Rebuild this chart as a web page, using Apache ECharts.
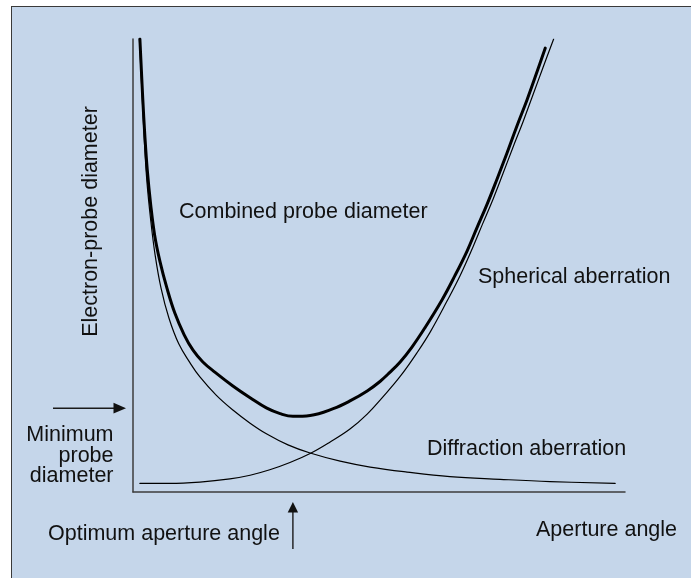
<!DOCTYPE html>
<html>
<head>
<meta charset="utf-8">
<title>Electron-probe diameter vs aperture angle</title>
<script src="https://cdn.jsdelivr.net/npm/echarts@6/dist/echarts.min.js"></script>
<style>
  html, body { margin: 0; padding: 0; background: #ffffff; }
  #wrap { position: relative; width: 691px; height: 578px; overflow: hidden; }
  #panel {
    position: absolute; left: 11px; top: 6px; width: 720px; height: 620px;
    background: #c5d6ea; border: 1.5px solid #3a3a3a; box-sizing: border-box;
  }
  #chart { position: absolute; left: 0; top: 0; width: 691px; height: 578px; }
</style>
</head>
<body>
<div id="wrap">
  <div id="panel"></div>
  <div id="chart"></div>
</div>
<script>
// Aperture angle (arbitrary units, 0-100) vs probe diameter (arbitrary units, 0-100)
const combinedProbe = [
  [1.4, 100.0], [1.7, 93.2], [2.0, 86.5], [2.4, 78.8], [2.9, 71.1], [3.6, 63.4],
  [4.4, 56.7], [5.5, 50.8], [6.9, 45.0], [8.5, 39.5], [10.4, 34.7], [12.2, 31.3],
  [14.2, 28.7], [16.7, 26.4], [20.3, 23.4], [23.8, 20.8], [27.2, 18.5], [29.9, 17.3],
  [32.5, 16.7], [36.0, 16.9], [40.7, 18.4], [44.1, 20.1], [47.6, 22.3], [50.2, 24.4],
  [52.2, 26.4], [54.3, 28.7], [56.7, 32.0], [59.3, 36.2], [62.8, 42.4], [65.4, 47.7],
  [67.9, 53.2], [69.9, 58.3], [72.0, 63.6], [74.0, 69.1], [76.0, 74.8], [78.0, 80.7],
  [80.1, 86.6], [82.1, 92.7], [83.8, 98.0]
];
const diffraction = [
  [1.3, 100.0], [1.6, 93.2], [1.9, 86.5], [2.3, 77.7], [2.8, 68.9], [3.6, 60.0],
  [4.5, 52.3], [5.7, 45.0], [7.3, 38.4], [9.3, 32.7], [11.6, 28.5], [13.6, 25.4],
  [16.9, 21.4], [20.3, 18.1], [23.8, 15.2], [27.2, 12.8], [31.5, 10.4], [36.0, 8.6],
  [42.1, 6.8], [48.2, 5.5], [55.7, 4.4], [64.4, 3.4], [74.6, 2.8], [84.8, 2.3],
  [98.0, 1.9]
];
const spherical = [
  [1.4, 1.9], [7.5, 1.9], [13.6, 2.2], [19.7, 2.9], [23.8, 3.7], [27.8, 4.9],
  [31.9, 6.5], [36.0, 8.5], [40.0, 11.0], [44.1, 13.9], [47.6, 17.2], [50.8, 21.0],
  [54.3, 25.5], [57.7, 30.7], [60.4, 35.3], [63.8, 42.1], [66.5, 47.8], [69.1, 54.1],
  [71.1, 59.3], [73.2, 64.7], [75.2, 70.3], [77.2, 76.0], [79.3, 81.8], [81.3, 87.7],
  [83.3, 93.6], [85.5, 100.0]
];
// Annotated levels
const optimumAngle = 32.5;
const minimumProbeLevel = 18.5;

const FONT = '21.5px "Liberation Sans", Arial, Helvetica, sans-serif';
const INK = '#111111';
const AXIS = '#3c3c3c';

const chart = echarts.init(document.getElementById('chart'), null, { renderer: 'canvas' });

const axisCommon = {
  type: 'value',
  min: 0,
  max: 100,
  axisLine: { show: true, onZero: false, lineStyle: { color: AXIS, width: 1.5 } },
  axisTick: { show: false },
  axisLabel: { show: false },
  splitLine: { show: false }
};

function curve(name, data, width) {
  return {
    name: name,
    type: 'line',
    data: data,
    smooth: 0.4,
    showSymbol: false,
    symbol: 'none',
    lineStyle: { color: '#000000', width: width, cap: 'round', join: 'round' },
    silent: true,
    z: width > 2 ? 3 : 2
  };
}

chart.setOption({
  animation: false,
  backgroundColor: 'transparent',
  grid: { left: 133, top: 39, width: 492, height: 453, containLabel: false },
  xAxis: Object.assign({}, axisCommon),
  yAxis: Object.assign({}, axisCommon),
  series: [
    curve('Diffraction aberration', diffraction, 1.2),
    curve('Spherical aberration', spherical, 1.2),
    curve('Combined probe diameter', combinedProbe, 3)
  ]
});

// Annotations placed through the axis scales
const optX = chart.convertToPixel({ gridIndex: 0 }, [optimumAngle, 0])[0];
const axisY = chart.convertToPixel({ gridIndex: 0 }, [0, 0])[1];
const axisX = chart.convertToPixel({ gridIndex: 0 }, [0, 0])[0];
const minY = chart.convertToPixel({ gridIndex: 0 }, [0, minimumProbeLevel])[1];

function txt(text, x, y, align, extra) {
  return Object.assign({
    type: 'text', silent: true, x: x, y: y,
    style: { text: text, font: FONT, fill: INK, align: align || 'left', verticalAlign: 'middle' }
  }, extra || {});
}

const arrowStroke = { stroke: '#1a1a1a', lineWidth: 1.4 };
const leftTip = axisX - 7;
const upTip = axisY + 10;

chart.setOption({
  graphic: [
    txt('Combined probe diameter', 179, 211.6),
    txt('Spherical aberration', 478, 277),
    txt('Diffraction aberration', 427, 449),
    txt('Aperture angle', 536, 530.2),
    txt('Optimum aperture angle', 48, 533.6),
    txt('Minimum', 113.5, 434.6, 'right'),
    txt('probe', 113.5, 455.6, 'right'),
    txt('diameter', 113.5, 476.4, 'right'),
    txt('Electron-probe diameter', 91.4, 221.5, 'center', { rotation: Math.PI / 2 }),
    // arrow pointing at the minimum probe diameter level
    { type: 'line', silent: true, shape: { x1: 53, y1: minY, x2: leftTip - 11, y2: minY }, style: arrowStroke },
    { type: 'polygon', silent: true,
      shape: { points: [[leftTip, minY], [leftTip - 12.5, minY - 5.4], [leftTip - 12.5, minY + 5.4]] },
      style: { fill: '#111111' } },
    // arrow pointing up at the optimum aperture angle
    { type: 'line', silent: true, shape: { x1: optX, y1: 549, x2: optX, y2: upTip + 9 }, style: arrowStroke },
    { type: 'polygon', silent: true,
      shape: { points: [[optX, upTip], [optX - 5.2, upTip + 10.5], [optX + 5.2, upTip + 10.5]] },
      style: { fill: '#111111' } }
  ]
});
</script>
</body>
</html>
